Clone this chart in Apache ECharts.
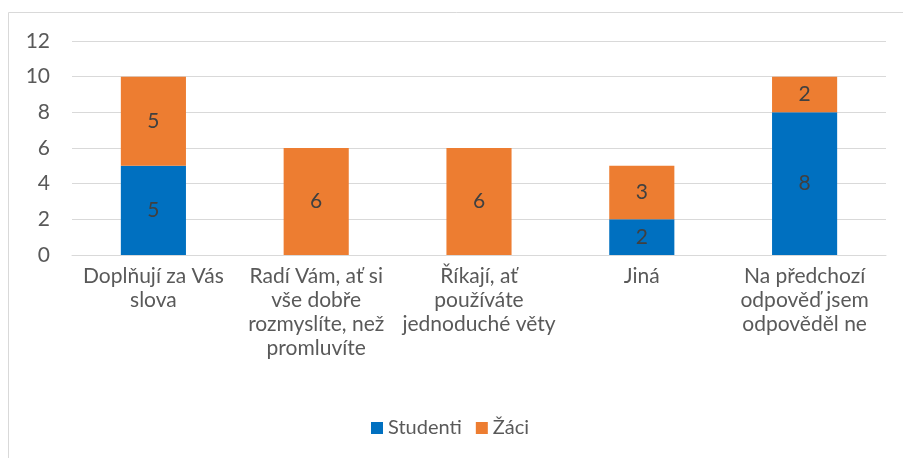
<!DOCTYPE html>
<html><head><meta charset="utf-8">
<script src="https://cdn.jsdelivr.net/npm/echarts@6/dist/echarts.min.js"></script>
<style>html,body{margin:0;padding:0;background:#fff}#c{width:903px;height:458px}</style>
</head><body><div id="c"></div>
<script>
var categories = ["Doplňují za Vás\nslova", "Radí Vám, ať si\nvše dobře\nrozmyslíte, než\npromluvíte", "Říkají, ať\npoužíváte\njednoduché věty", "Jiná", "Na předchozí\nodpověď jsem\nodpověděl ne"];
var studenti = [5, 0, 0, 2, 8];
var zaci = [5, 6, 6, 3, 2];
var seriesNames = ["Studenti", "Žáci"];
var yTicks = {min: 0, max: 12, interval: 2};

var font = "Lato, 'Noto Sans', sans-serif";
var chart = echarts.init(document.getElementById('c'));
function lbl() {
  return {show: true, position: 'inside', color: '#404040', fontSize: 21, fontFamily: font,
    formatter: function (p) { return p.value === 0 ? '' : p.value; }};
}
chart.setOption({
  animation: false,
  graphic: [{type: 'rect', shape: {x: 8.5, y: 12.5, width: 1000, height: 1000},
    style: {fill: 'none', stroke: '#D9D9D9', lineWidth: 1}}],
  grid: {left: 72, right: 17, top: 41, bottom: 203},
  legend: {left: 366, top: 413, itemWidth: 12, itemHeight: 12, itemGap: 14, icon: 'rect',
    textStyle: {color: '#595959', fontSize: 20, fontFamily: font}, data: seriesNames},
  xAxis: {type: 'category', data: categories,
    axisLine: {lineStyle: {color: '#D9D9D9'}}, axisTick: {show: false},
    axisLabel: {color: '#595959', fontSize: 21, fontFamily: font, lineHeight: 24, margin: 9, interval: 0}},
  yAxis: {type: 'value', min: yTicks.min, max: yTicks.max, interval: yTicks.interval,
    axisLine: {show: false}, axisTick: {show: false},
    axisLabel: {color: '#595959', fontSize: 21, fontFamily: font, margin: 22},
    splitLine: {lineStyle: {color: '#D9D9D9', width: 1}}},
  series: [
    {name: seriesNames[0], type: 'bar', stack: 's', data: studenti, barWidth: '40%',
      itemStyle: {color: '#0070C0'}, label: lbl()},
    {name: seriesNames[1], type: 'bar', stack: 's', data: zaci, barWidth: '40%',
      itemStyle: {color: '#ED7D31'}, label: lbl()}
  ]
});
</script></body></html>
